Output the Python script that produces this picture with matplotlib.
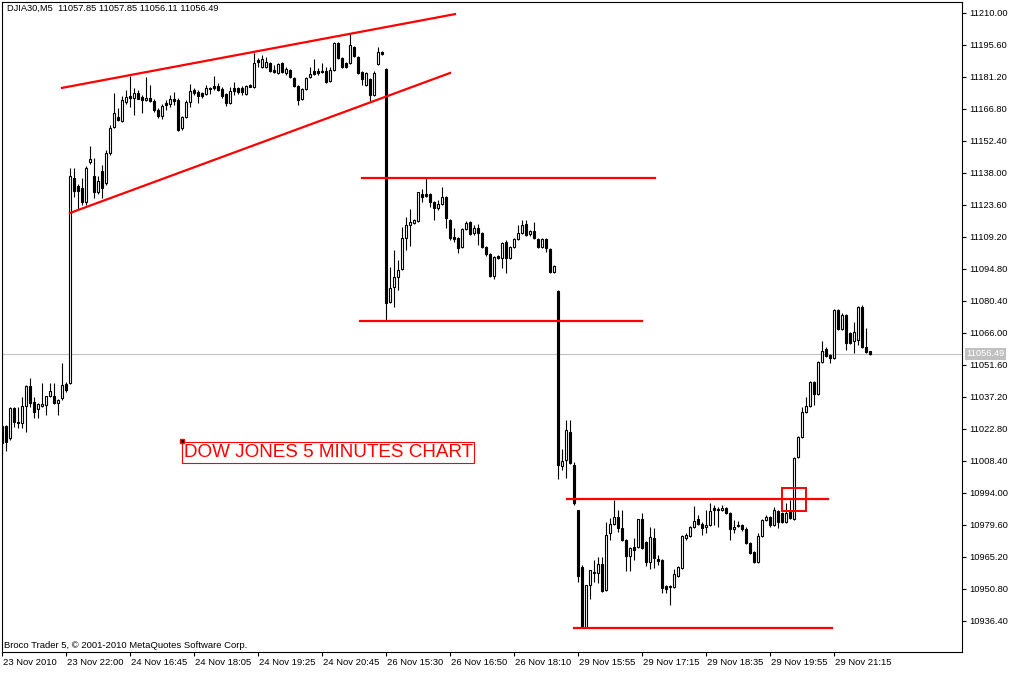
import numpy as np
import matplotlib
matplotlib.use("Agg")
import matplotlib.pyplot as plt
from matplotlib.transforms import ScaledTranslation
from matplotlib.patches import Rectangle

# DJIA30 M5 candles, 23-29 Nov 2010 (bar index 0..217)
opens = [11024.2, 11024.2, 11018.8, 11032.3, 11026.0, 11025.5, 11033.2, 11042.2, 11035.0, 11031.8,
         11033.2, 11033.6, 11037.7, 11037.7, 11034.5, 11036.8, 11043.1, 11043.5, 11135.8, 11132.2,
         11131.3, 11125.0, 11143.0, 11136.7, 11129.5, 11138.9, 11133.5, 11147.0, 11158.7, 11163.2,
         11161.4, 11170.0, 11172.7, 11171.8, 11174.0, 11172.2, 11170.9, 11171.8, 11170.4, 11166.4,
         11163.7, 11169.5, 11169.1, 11171.3, 11170.9, 11158.3, 11163.2, 11170.0, 11175.4, 11174.5,
         11174.0, 11173.6, 11176.3, 11177.2, 11177.2, 11175.8, 11173.6, 11169.5, 11176.3, 11176.3,
         11176.3, 11173.6, 11177.6, 11176.7, 11188.9, 11185.7, 11185.7, 11187.5, 11184.4, 11183.0,
         11187.5, 11183.0, 11184.4, 11180.8, 11177.2, 11171.3, 11175.8, 11181.2, 11183.9, 11183.9,
         11183.5, 11183.9, 11179.4, 11184.4, 11196.5, 11189.8, 11187.5, 11187.5, 11194.7, 11190.2,
         11183.5, 11177.6, 11180.3, 11173.1, 11187.1, 11192.5, 11184.8, 11080.0, 11086.7, 11091.2,
         11094.8, 11108.8, 11114.6, 11115.5, 11116.4, 11128.6, 11128.6, 11128.6, 11125.0, 11122.3,
         11124.1, 11127.2, 11116.9, 11109.2, 11108.8, 11104.7, 11112.8, 11116.0, 11111.0, 11113.3,
         11111.0, 11104.7, 11101.6, 11091.7, 11100.6, 11099.8, 11107.0, 11099.8, 11104.7, 11108.3,
         11111.0, 11115.1, 11110.6, 11111.9, 11108.3, 11104.7, 11108.3, 11103.8, 11093.5, 11084.9,
         11006.2, 11008.9, 11021.5, 11006.6, 10986.4, 10960.7, 10933.7, 10952.6, 10958.5, 10958.0,
         10962.1, 10950.4, 10976.0, 10980.1, 10983.2, 10978.3, 10972.9, 10965.7, 10969.7, 10969.7,
         10982.3, 10972.0, 10963.0, 10973.8, 10964.3, 10963.9, 10952.2, 10952.2, 10951.7, 10956.7,
         10960.3, 10973.8, 10974.7, 10978.7, 10982.3, 10980.1, 10978.7, 10979.6, 10987.3, 10986.8,
         10986.4, 10987.3, 10985.0, 10977.8, 10979.6, 10979.6, 10977.8, 10971.5, 10967.5, 10963.0,
         10974.7, 10981.9, 10983.2, 10979.6, 10985.9, 10985.0, 10981.0, 10985.5, 10982.3, 11010.2,
         11019.2, 11030.5, 11033.2, 11044.0, 11038.6, 11053.0, 11058.8, 11056.1, 11054.8, 11076.4,
         11067.8, 11074.1, 11066.0, 11062.4, 11062.9, 11077.7, 11059.7, 11057.85]

highs = [11024.2, 11024.6, 11032.7, 11032.7, 11032.7, 11037.2, 11042.6, 11045.8, 11037.2, 11034.5,
         11043.5, 11037.7, 11043.5, 11043.5, 11036.3, 11052.5, 11044.0, 11140.3, 11140.3, 11133.1,
         11135.8, 11141.2, 11150.2, 11144.8, 11136.7, 11141.6, 11148.4, 11159.6, 11174.0, 11167.3,
         11172.7, 11175.4, 11181.7, 11176.3, 11175.4, 11173.1, 11181.2, 11177.6, 11171.3, 11167.3,
         11169.1, 11170.9, 11173.1, 11174.5, 11171.8, 11163.7, 11170.9, 11178.1, 11176.3, 11175.4,
         11174.5, 11177.6, 11176.7, 11181.7, 11178.5, 11176.7, 11174.0, 11176.7, 11179.0, 11176.7,
         11177.2, 11177.6, 11178.1, 11192.0, 11189.8, 11191.1, 11190.2, 11188.0, 11186.6, 11187.5,
         11188.0, 11185.7, 11184.8, 11181.2, 11177.6, 11176.3, 11181.2, 11185.7, 11189.3, 11185.3,
         11187.5, 11185.7, 11185.7, 11197.0, 11197.0, 11190.2, 11188.0, 11200.6, 11195.2, 11190.7,
         11183.9, 11183.5, 11180.8, 11183.9, 11194.7, 11192.9, 11185.3, 11095.7, 11103.4, 11098.9,
         11113.7, 11118.2, 11121.8, 11117.3, 11129.5, 11130.8, 11135.8, 11129.0, 11125.4, 11125.9,
         11131.7, 11127.7, 11117.3, 11113.3, 11109.2, 11113.3, 11116.4, 11116.4, 11114.6, 11115.1,
         11111.5, 11105.2, 11102.0, 11100.6, 11101.1, 11107.0, 11107.9, 11105.2, 11108.8, 11114.6,
         11116.9, 11116.9, 11112.4, 11116.0, 11108.8, 11108.8, 11108.8, 11104.3, 11096.6, 11085.4,
         11013.8, 11026.9, 11026.9, 11008.0, 10986.4, 10961.6, 10952.6, 10959.4, 10963.9, 10965.2,
         10965.2, 10981.0, 10982.8, 10990.9, 10986.4, 10986.4, 10973.3, 10969.7, 10973.8, 10982.3,
         10985.0, 10972.4, 10978.7, 10978.3, 10966.1, 10964.3, 10952.6, 10952.6, 10959.8, 10961.2,
         10975.1, 10976.0, 10979.2, 10988.2, 10984.1, 10981.0, 10986.4, 10989.5, 10988.6, 10987.7,
         10988.6, 10987.7, 10985.5, 10981.9, 10981.4, 10980.1, 10978.7, 10972.0, 10967.9, 10976.0,
         10982.3, 10984.1, 10983.7, 10987.7, 10986.4, 10985.5, 10989.5, 10990.9, 11010.2, 11019.7,
         11032.7, 11037.2, 11044.4, 11044.4, 11053.4, 11062.4, 11059.7, 11056.6, 11076.8, 11076.8,
         11075.0, 11074.6, 11066.5, 11071.0, 11078.2, 11078.6, 11068.3, 11057.85]

lows = [11011.6, 11012.9, 11017.9, 11023.7, 11023.3, 11023.3, 11021.5, 11032.7, 11027.8, 11027.8,
        11032.7, 11029.1, 11037.2, 11034.1, 11029.1, 11035.9, 11039.5, 11043.1, 11127.2, 11121.4,
        11123.6, 11123.6, 11142.1, 11126.8, 11128.6, 11126.8, 11132.6, 11146.1, 11158.3, 11161.4,
        11161.0, 11169.1, 11167.7, 11164.1, 11171.3, 11165.0, 11170.4, 11170.0, 11165.5, 11162.8,
        11162.3, 11166.4, 11167.7, 11168.6, 11156.9, 11157.4, 11162.8, 11167.7, 11173.1, 11169.5,
        11171.8, 11173.1, 11173.6, 11175.4, 11174.9, 11171.8, 11168.2, 11169.1, 11173.1, 11173.6,
        11173.1, 11173.1, 11176.7, 11176.3, 11185.7, 11185.3, 11185.3, 11183.5, 11183.0, 11182.6,
        11183.0, 11182.1, 11180.8, 11176.7, 11168.6, 11170.9, 11175.4, 11180.8, 11182.1, 11182.1,
        11183.0, 11178.5, 11179.0, 11183.9, 11189.3, 11185.3, 11185.3, 11187.1, 11190.2, 11182.6,
        11177.6, 11177.2, 11170.4, 11172.7, 11186.6, 11191.1, 11071.9, 11079.5, 11077.7, 11085.4,
        11094.4, 11103.4, 11105.2, 11115.1, 11116.0, 11125.0, 11127.2, 11122.7, 11116.9, 11121.4,
        11123.6, 11113.3, 11107.9, 11107.0, 11102.0, 11104.3, 11112.4, 11110.1, 11110.1, 11105.6,
        11104.3, 11100.6, 11091.2, 11090.3, 11099.3, 11095.3, 11093.0, 11099.3, 11104.3, 11107.9,
        11110.6, 11109.7, 11109.7, 11108.3, 11104.3, 11104.3, 11102.5, 11093.0, 11093.0, 11000.3,
        11004.4, 11000.8, 11007.1, 10988.6, 10954.0, 10933.3, 10933.3, 10946.3, 10954.0, 10953.5,
        10949.5, 10949.9, 10972.9, 10979.6, 10976.5, 10972.4, 10958.9, 10958.9, 10963.9, 10969.3,
        10968.8, 10961.2, 10959.8, 10960.3, 10961.6, 10949.0, 10949.0, 10943.6, 10951.3, 10956.2,
        10959.8, 10972.9, 10974.2, 10978.3, 10979.6, 10975.1, 10976.0, 10979.2, 10979.6, 10978.7,
        10985.9, 10984.6, 10972.9, 10976.0, 10978.7, 10976.9, 10971.1, 10966.6, 10962.5, 10962.5,
        10974.2, 10981.4, 10978.7, 10979.2, 10978.3, 10980.5, 10980.5, 10982.3, 10981.9, 11009.8,
        11018.8, 11030.0, 11032.7, 11033.6, 11038.1, 11052.5, 11055.2, 11052.5, 11054.3, 11067.4,
        11067.4, 11058.4, 11061.1, 11057.0, 11060.6, 11059.3, 11057.0, 11056.11]

closes = [11016.5, 11017.0, 11032.3, 11026.0, 11025.5, 11033.2, 11042.2, 11034.5, 11030.5, 11034.1,
          11034.1, 11037.7, 11039.9, 11034.5, 11035.9, 11042.6, 11040.4, 11136.7, 11129.9, 11129.9,
          11125.0, 11140.3, 11144.3, 11129.5, 11134.4, 11131.3, 11147.0, 11158.3, 11165.0, 11161.9,
          11170.9, 11172.2, 11171.8, 11174.0, 11171.3, 11170.9, 11171.8, 11170.4, 11166.4, 11163.7,
          11168.2, 11168.6, 11171.3, 11170.4, 11157.4, 11163.2, 11170.0, 11174.9, 11174.0, 11172.7,
          11172.7, 11176.3, 11175.8, 11176.3, 11175.4, 11172.7, 11169.5, 11174.9, 11174.9, 11174.5,
          11174.5, 11177.2, 11176.7, 11187.5, 11188.0, 11189.3, 11188.0, 11183.9, 11183.5, 11187.1,
          11183.5, 11184.8, 11181.2, 11177.2, 11170.9, 11175.8, 11180.8, 11182.6, 11182.6, 11183.0,
          11183.9, 11179.0, 11184.4, 11196.5, 11189.8, 11185.7, 11185.7, 11195.6, 11190.7, 11183.0,
          11180.3, 11183.0, 11173.1, 11183.0, 11192.5, 11191.6, 11079.5, 11086.3, 11091.2, 11094.4,
          11108.8, 11114.6, 11116.0, 11116.9, 11129.5, 11127.2, 11127.7, 11125.0, 11122.3, 11124.1,
          11127.2, 11117.8, 11108.8, 11108.3, 11104.3, 11112.8, 11115.5, 11110.6, 11113.3, 11111.0,
          11104.7, 11101.6, 11091.7, 11100.2, 11099.8, 11106.5, 11099.8, 11104.7, 11108.3, 11111.0,
          11114.6, 11110.1, 11111.9, 11108.8, 11104.7, 11108.3, 11104.3, 11093.5, 11096.2, 11006.6,
          11008.4, 11022.4, 11007.5, 10989.5, 10956.7, 10933.7, 10952.6, 10959.4, 10958.0, 10962.1,
          10949.9, 10975.1, 10980.1, 10983.2, 10978.3, 10972.9, 10965.7, 10969.3, 10968.4, 10982.3,
          10969.3, 10963.0, 10974.2, 10964.8, 10963.4, 10951.3, 10950.8, 10951.7, 10957.6, 10960.7,
          10974.7, 10975.1, 10978.7, 10981.4, 10980.1, 10978.3, 10979.6, 10985.9, 10986.4, 10986.4,
          10987.3, 10985.0, 10977.8, 10978.7, 10979.2, 10977.8, 10971.5, 10967.0, 10963.0, 10974.7,
          10981.9, 10983.2, 10979.6, 10986.4, 10981.0, 10981.0, 10985.0, 10982.8, 11009.8, 11019.2,
          11030.5, 11033.2, 11044.0, 11038.6, 11053.0, 11057.9, 11055.7, 11054.8, 11076.4, 11067.8,
          11074.1, 11061.5, 11061.5, 11066.5, 11077.7, 11059.7, 11057.5, 11056.49]

xtick_labels = ['23 Nov 2010', '23 Nov 22:00', '24 Nov 16:45', '24 Nov 18:05', '24 Nov 19:25',
                '24 Nov 20:45', '26 Nov 15:30', '26 Nov 16:50', '26 Nov 18:10', '29 Nov 15:55',
                '29 Nov 17:15', '29 Nov 18:35', '29 Nov 19:55', '29 Nov 21:15']

# drawn objects (bar index, price)
channel_top = ([15, 113.25], [11176.3, 11209.5])
channel_bottom = ([17, 112], [11120.0, 11183.0])
hlines = [(11135.8, 90, 163.25), (11071.4, 89.5, 160), (10991.3, 141.25, 206.5), (10933.3, 143, 207.5)]
last_price = 11056.49

plt.rcParams['font.family'] = ['Liberation Sans', 'DejaVu Sans']

fig = plt.figure(figsize=(10.2, 6.73), dpi=100)
ax = fig.add_axes([2/1020, 21/673, 960/1020, 650/673])

o = np.array(opens); h = np.array(highs); l = np.array(lows); c = np.array(closes)
x = np.arange(len(o))
up = c >= o

ax.axhline(last_price, color='#c0c0c0', lw=0.8, zorder=1)

ax.vlines(x, l, h, color='black', lw=0.8, zorder=2)
body_bottom = np.minimum(o, c)
body_h = np.maximum(np.abs(c - o), 0.35)
ax.bar(x[up], body_h[up], bottom=body_bottom[up], width=0.5, color='white',
       edgecolor='black', linewidth=0.8, zorder=3)
ax.bar(x[~up], body_h[~up], bottom=body_bottom[~up], width=0.5, color='black',
       edgecolor='black', linewidth=0.8, zorder=3)

red = '#ff0000'
ax.plot(*channel_top, color=red, lw=1.6, zorder=4)
ax.plot(*channel_bottom, color=red, lw=1.6, zorder=4)
for y, x0, x1 in hlines:
    ax.plot([x0, x1], [y, y], color=red, lw=1.6, zorder=4)
ax.add_patch(Rectangle((195, 10985.9), 6, 10.4, fill=False, edgecolor=red, lw=1.4, zorder=5))

ax.text(45.4, 11012.2, 'DOW JONES 5 MINUTES CHART', color=red, fontsize=13.6,
        va='center', ha='left', zorder=6,
        bbox=dict(boxstyle='square,pad=0.1', fc='white', ec=red, lw=0.8))
ax.plot([45], [11017.4], marker='s', ms=3.5, mfc='black', mec=red, mew=1, zorder=7)

ax.set_xlim(0, 240)
ax.set_ylim(10922.45, 11214.95)

yt = [10936.4 + 14.4 * k for k in range(20)]
ax.yaxis.tick_right()
ax.set_yticks(yt)
ax.set_yticklabels(['%.2f' % v for v in yt])
ax.tick_params(axis='y', direction='out', length=3, width=0.8, pad=2, labelsize=6.7)

ax.set_xticks(np.arange(len(xtick_labels)) * 16)
ax.set_xticklabels(xtick_labels)
ax.tick_params(axis='x', direction='out', length=3, width=0.8, pad=1, labelsize=6.8)
off = ScaledTranslation(1/100, 0, fig.dpi_scale_trans)
for lab in ax.get_xticklabels():
    lab.set_ha('left')
    lab.set_transform(lab.get_transform() + off)

for s in ax.spines.values():
    s.set_linewidth(0.8)

fig.text(966/1020, 1 - 354/673, '11056.49', color='white', fontsize=6.7, va='center', ha='left',
         bbox=dict(boxstyle='square,pad=0.15', fc='#c0c0c0', ec='none'))
fig.text(7/1020, 1 - 8/673, 'DJIA30,M5  11057.85 11057.85 11056.11 11056.49', fontsize=6.7,
         va='center', ha='left')
fig.text(4/1020, 1 - 645/673, 'Broco Trader 5, \u00a9 2001-2010 MetaQuotes Software Corp.',
         fontsize=6.8, va='center', ha='left')

fig.savefig('out.png', dpi=100)
